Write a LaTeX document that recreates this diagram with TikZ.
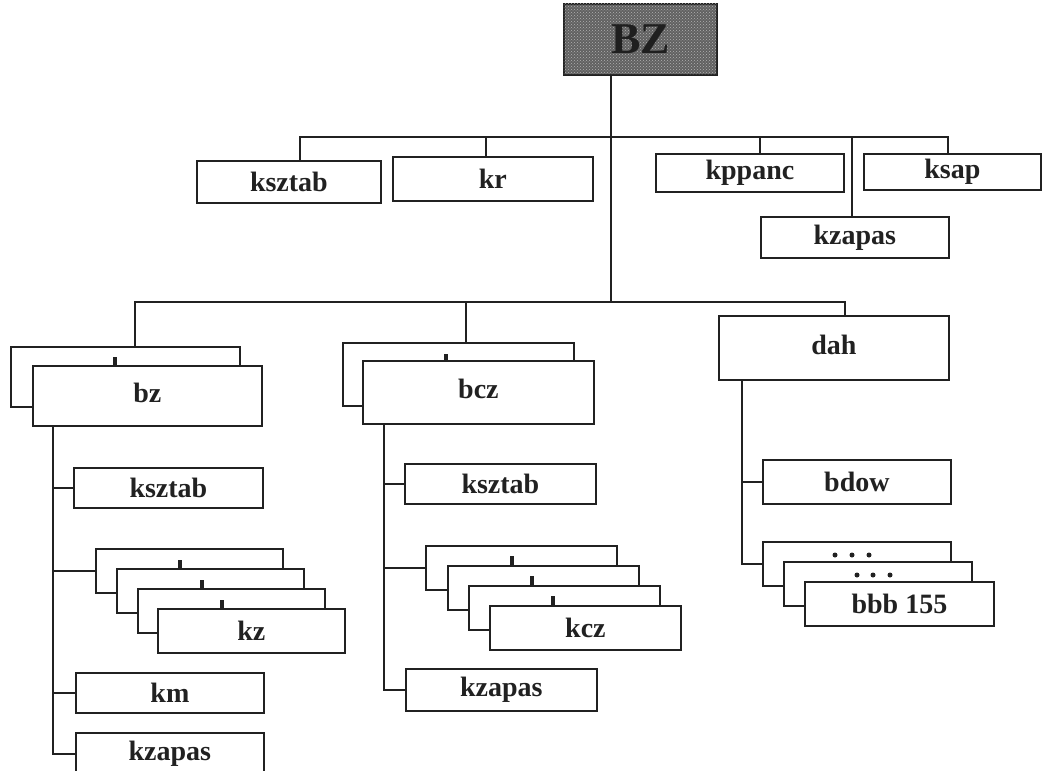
\documentclass[tikz,border=0pt]{standalone}
\usepackage{fontspec}
\setmainfont{Liberation Serif}
\usetikzlibrary{patterns}
\newcommand\boxfont{\fontsize{28}{30}\selectfont\bfseries}
\newcommand\bzfont{\fontsize{44}{46}\selectfont\bfseries}
\definecolor{ink}{gray}{0.13}
\begin{document}
\begin{tikzpicture}[x=1pt,y=-1pt,
  box/.style={draw=ink, line width=1.8pt, fill=white, inner sep=0pt,
    font=\boxfont, text=ink, anchor=north west},
  conn/.style={draw=ink, line width=1.8pt},
  tick/.style={fill=ink},
  topbox/.style={draw=ink, line width=1.8pt, fill=black!62, inner sep=0pt,
    postaction={pattern=crosshatch dots, pattern color=white!70!black},
    font=\bzfont, text=black!88, anchor=north west}]
\useasboundingbox (0,0) rectangle (1048,770);
\fill[white] (0,0) rectangle (1048,770);
\clip (0,0) rectangle (1048,770);

% top
\node[topbox, minimum width=153pt, minimum height=71pt] (BZ) at (563,3) {BZ};

% first level
\node[box, minimum width=184pt, minimum height=42pt] (ks1) at (196,160) {ksztab};
\node[box, minimum width=200pt, minimum height=44pt] (kr) at (392,156) {kr};
\node[box, minimum width=188pt, minimum height=38pt] (kppanc) at (655,153) {kppanc};
\node[box, minimum width=177pt, minimum height=36pt] (ksap) at (863,153) {ksap};
\node[box, minimum width=188pt, minimum height=41pt] (kzap1) at (760,216) {kzapas};

% second level: bz stack
\node[box, minimum width=229pt, minimum height=60pt] (bzB) at (10,346) {};
\fill[tick] (113,357) rectangle (117,366);
\node[box, minimum width=229pt, minimum height=60pt] (bz) at (32,365) {\raisebox{6pt}{bz}};

% bcz stack
\node[box, minimum width=231pt, minimum height=63pt] (bczB) at (342,342) {};
\fill[tick] (444,354) rectangle (448,361);
\node[box, minimum width=231pt, minimum height=63pt] (bcz) at (362,360) {\raisebox{7pt}{bcz}};

% dah
\node[box, minimum width=230pt, minimum height=64pt] (dah) at (718,315) {\raisebox{7pt}{dah}};

% bz subtree
\node[box, minimum width=189pt, minimum height=40pt] (ks2) at (73,467) {ksztab};
\node[box, minimum width=187pt, minimum height=44pt] (kz1) at (95,548) {};
\fill[tick] (178,560) rectangle (182,569);
\node[box, minimum width=187pt, minimum height=44pt] (kz2) at (116,568) {};
\fill[tick] (200,580) rectangle (204,589);
\node[box, minimum width=187pt, minimum height=44pt] (kz3) at (137,588) {};
\fill[tick] (220,600) rectangle (224,609);
\node[box, minimum width=187pt, minimum height=44pt] (kz) at (157,608) {kz};
\node[box, minimum width=188pt, minimum height=40pt] (km) at (75,672) {km};
\node[box, minimum width=188pt, minimum height=42pt] (kzap2) at (75,732) {kzapas};

% bcz subtree
\node[box, minimum width=191pt, minimum height=40pt] (ks3) at (404,463) {ksztab};
\node[box, minimum width=191pt, minimum height=44pt] (kcz1) at (425,545) {};
\fill[tick] (510,556) rectangle (514,566);
\node[box, minimum width=191pt, minimum height=44pt] (kcz2) at (447,565) {};
\fill[tick] (530,576) rectangle (534,586);
\node[box, minimum width=191pt, minimum height=44pt] (kcz3) at (468,585) {};
\fill[tick] (551,596) rectangle (555,606);
\node[box, minimum width=191pt, minimum height=44pt] (kcz) at (489,605) {kcz};
\node[box, minimum width=191pt, minimum height=42pt] (kzap3) at (405,668) {kzapas};

% dah subtree
\node[box, minimum width=188pt, minimum height=44pt] (bdow) at (762,459) {bdow};
\node[box, minimum width=188pt, minimum height=44pt] (bbb1) at (762,541) {};
\fill[ink] (835,555) circle (2.5) (852,555) circle (2.5) (869,555) circle (2.5);
\node[box, minimum width=188pt, minimum height=44pt] (bbb2) at (783,561) {};
\fill[ink] (857,575) circle (2.5) (873,575) circle (2.5) (890,575) circle (2.5);
\node[box, minimum width=189pt, minimum height=44pt] (bbb) at (804,581) {bbb 155};

% connector coordinates
\coordinate (tr) at (611,137);
\coordinate (tb) at (611,302);
\coordinate (b1L) at (300,137);
\coordinate (b1R) at (948,137);
\coordinate (b1kr) at (486,137);
\coordinate (b1kp) at (760,137);
\coordinate (b1kz) at (852,137);
\coordinate (b2L) at (135,302);
\coordinate (b2R) at (845,302);
\coordinate (b2m) at (466,302);
\coordinate (v1) at (53,0);
\coordinate (v2) at (384,0);
\coordinate (v3) at (742,0);

% connectors
\draw[conn] (BZ.south -| tr) -- (tb);
\draw[conn] (ks1.north -| b1L) -- (b1L) -- (b1R) -- (b1R |- ksap.north);
\draw[conn] (b1kr) -- (b1kr |- kr.north);
\draw[conn] (b1kp) -- (b1kp |- kppanc.north);
\draw[conn] (b1kz) -- (b1kz |- kzap1.north);
\draw[conn] (bzB.north -| b2L) -- (b2L) -- (b2R) -- (b2R |- dah.north);
\draw[conn] (b2m) -- (b2m |- bczB.north);

\draw[conn] (bz.south -| v1) -- (kzap2.west -| v1) -- (kzap2.west);
\draw[conn] (ks2.west -| v1) -- (ks2.west);
\draw[conn] (kz1.west -| v1) -- (kz1.west);
\draw[conn] (km.west -| v1) -- (km.west);

\draw[conn] (bcz.south -| v2) -- (kzap3.west -| v2) -- (kzap3.west);
\draw[conn] (ks3.west -| v2) -- (ks3.west);
\draw[conn] (kcz1.west -| v2) -- (kcz1.west);

\draw[conn] (dah.south -| v3) -- (bbb1.west -| v3) -- (bbb1.west);
\draw[conn] (bdow.west -| v3) -- (bdow.west);
\end{tikzpicture}
\end{document}
